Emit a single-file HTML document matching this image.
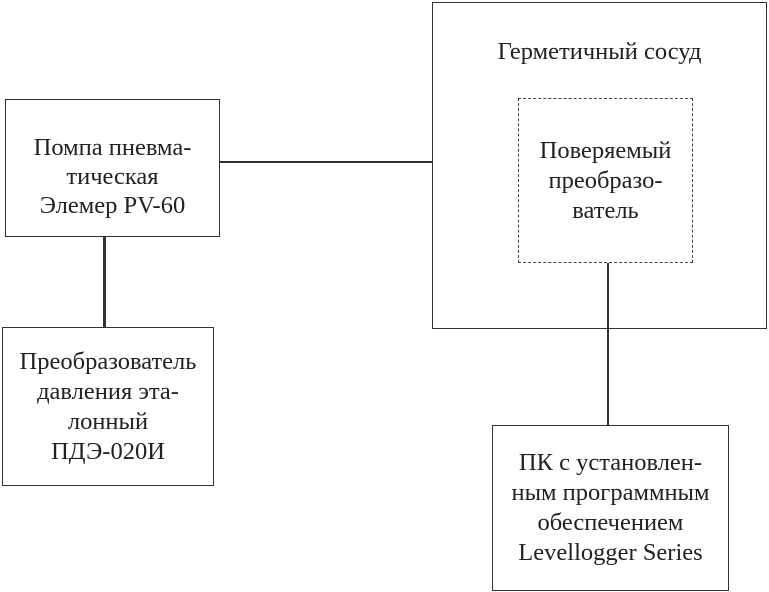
<!DOCTYPE html>
<html><head><meta charset="utf-8"><style>
body{margin:0;width:769px;height:592px;background:#fff;position:relative;overflow:hidden;font-family:"Liberation Serif","Noto Serif CJK SC",serif;color:#222}
.b{position:absolute;border:1.5px solid #333;box-sizing:border-box;display:flex;align-items:center;justify-content:center;text-align:center;font-size:24.5px;line-height:30px;white-space:nowrap}
.l{position:absolute;background:#333}
</style></head><body>
<div class="b" style="left:5px;top:99px;width:215px;height:138px;padding-top:16px;line-height:29px">Помпа пневма-<br>тическая<br>Элемер PV-60</div>
<div class="b" style="left:2px;top:327px;width:212px;height:159px">Преобразователь<br>давления эта-<br>лонный<br>ПДЭ-020И</div>
<div class="b" style="left:432px;top:2px;width:335px;height:327px;align-items:flex-start;padding-top:34px">Герметичный сосуд</div>
<div class="b" style="left:518px;top:98px;width:175px;height:165px;border:1.5px dashed #444">Поверяемый<br>преобразо-<br>ватель</div>
<div class="b" style="left:492px;top:425px;width:237px;height:166px">ПК с установлен-<br>ным программным<br>обеспечением<br>Levellogger Series</div>
<div class="l" style="left:220px;top:161px;width:212px;height:2px"></div>
<div class="l" style="left:103px;top:237px;width:2.5px;height:90px"></div>
<div class="l" style="left:607px;top:263px;width:1.5px;height:162px"></div>
</body></html>
